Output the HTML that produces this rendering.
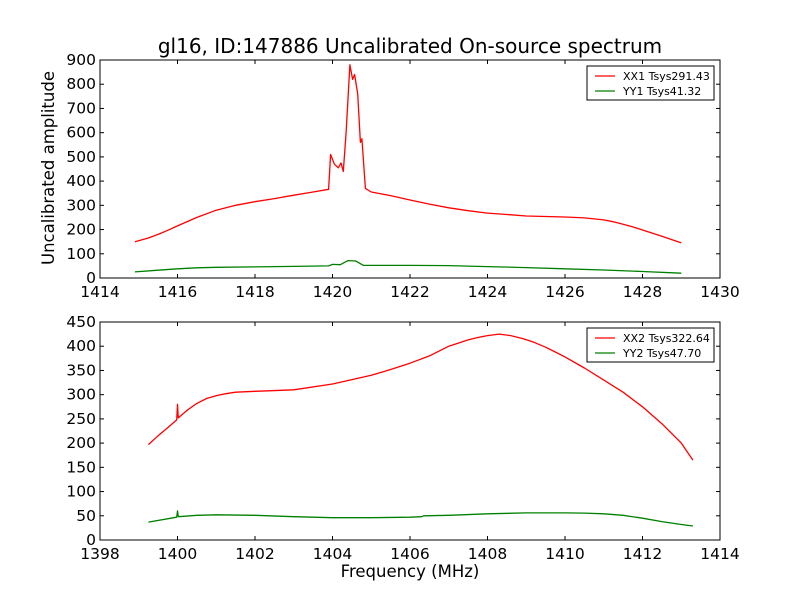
<!DOCTYPE html>
<html><head><meta charset="utf-8"><style>
body{margin:0;background:#fff;}
svg{display:block;font-family:"DejaVu Sans","Liberation Sans",sans-serif;}
</style></head><body>
<svg id="chart" width="800" height="600">
<rect width="800" height="600" fill="#fff"/>
</svg>
<script>
const topXX_f=[1414.9,1415.25,1415.5,1415.75,1416,1416.5,1417,1417.5,1418,1418.5,1419,1419.5,1419.9,1419.95,1420.05,1420.15,1420.22,1420.28,1420.35,1420.45,1420.52,1420.57,1420.65,1420.72,1420.76,1420.85,1421,1421.5,1422,1422.5,1423,1423.5,1424,1424.5,1425,1425.5,1426,1426.5,1427,1427.25,1427.5,1427.75,1428,1428.5,1429];
const topXX_v=[150,165,180,197,215,250,280,300,315,328,342,355,366,510,470,455,475,440,600,880,820,840,760,560,575,370,355,340,322,305,290,278,268,262,256,254,252,248,240,232,222,211,198,172,145];
const topYY_f=[1414.9,1415.5,1416,1416.5,1417,1418,1419,1419.9,1420,1420.2,1420.4,1420.6,1420.8,1421,1422,1423,1424,1425,1426,1427,1428,1429];
const topYY_v=[25,32,38,42,44,46,48,50,56,55,72,70,52,52,52,51,47,43,38,33,27,20];
const botXX_f=[1399.25,1399.5,1399.75,1399.98,1400,1400.02,1400.25,1400.5,1400.75,1401,1401.25,1401.5,1402,1403,1404,1405,1405.5,1406,1406.5,1407,1407.5,1407.75,1408,1408.3,1408.6,1408.9,1409.2,1409.5,1409.75,1410,1410.5,1411,1411.5,1412,1412.5,1413,1413.3];
const botXX_v=[197,215,232,248,280,252,268,282,292,298,302,305,307,310,322,340,352,365,380,400,413,418,422,425,422,416,408,398,388,378,355,330,305,275,240,200,165];
const botYY_f=[1399.25,1399.98,1400,1400.02,1400.5,1401,1402,1403,1404,1405,1406,1406.3,1406.35,1407,1408,1409,1410,1410.5,1411,1411.5,1412,1412.5,1413,1413.3];
const botYY_v=[37,47,60,48,51,52,51,48,46,46,47,48,50,51,54,56,56,55.5,54,51,45,38,32,29];
const topXTicks=[1414,1416,1418,1420,1422,1424,1426,1428,1430];
const topYTicks=[0,100,200,300,400,500,600,700,800,900];
const botXTicks=[1398,1400,1402,1404,1406,1408,1410,1412,1414];
const botYTicks=[0,50,100,150,200,250,300,350,400,450];
const NS='http://www.w3.org/2000/svg';
const svg=document.getElementById('chart');
function mk(tag,attrs,parent){const e=document.createElementNS(NS,tag);for(const k in attrs)e.setAttribute(k,attrs[k]);(parent||svg).appendChild(e);return e;}
function panel(name,x0,y0,w,h,xmin,xmax,ymax,xt,yt,series,legend){
  const g=mk('g',{});
  
  
  const sx=f=>x0+(f-xmin)/(xmax-xmin)*w, sy=v=>y0+h-v/ymax*h;
  series.forEach(s=>{
    const d=s.f.map((f,i)=>(i?'L':'M')+sx(f).toFixed(1)+','+sy(s.v[i]).toFixed(1)).join('');
    const p=mk('path',{d:d,fill:'none',stroke:s.c,'stroke-width':1.3,'stroke-linejoin':'round'},g);
    
    
  });
  mk('rect',{x:x0,y:y0,width:w,height:h,fill:'none',stroke:'#000','stroke-width':1},g);
  xt.forEach(t=>{const x=sx(t);
    mk('line',{x1:x,x2:x,y1:y0+h,y2:y0+h-4,stroke:'#000'},g);
    mk('line',{x1:x,x2:x,y1:y0,y2:y0+4,stroke:'#000'},g);
    const tx=mk('text',{x:x,y:y0+h+19,'text-anchor':'middle','font-size':15.5},g);tx.textContent=t;
    
    
  });
  yt.forEach(t=>{const y=sy(t);
    mk('line',{x1:x0,x2:x0+4,y1:y,y2:y,stroke:'#000'},g);
    mk('line',{x1:x0+w,x2:x0+w-4,y1:y,y2:y,stroke:'#000'},g);
    const tx=mk('text',{x:x0-4,y:y+5,'text-anchor':'end','font-size':15.5},g);tx.textContent=t;
    
    
  });
  const lg=mk('g',{},g);
  
  
  const lx=x0+w-133,ly=y0+6;
  mk('rect',{x:lx,y:ly,width:127,height:34,fill:'#fff',stroke:'#000'},lg);
  legend.forEach((l,i)=>{
    mk('line',{x1:lx+8,x2:lx+28,y1:ly+10+i*15,y2:ly+10+i*15,stroke:l.c,'stroke-width':1.2},lg);
    const tx=mk('text',{x:lx+36,y:ly+14+i*15,'font-size':11},lg);tx.textContent=l.t;
    
    
  });
}
panel('top-panel',100,60,620,218,1414,1430,900,topXTicks,topYTicks,
 [{f:topXX_f,v:topXX_v,c:'#ff0000',n:'xx1-line'},{f:topYY_f,v:topYY_v,c:'#008000',n:'yy1-line'}],
 [{c:'#ff0000',t:'XX1 Tsys291.43'},{c:'#008000',t:'YY1 Tsys41.32'}]);
panel('bottom-panel',100,322,620,218,1398,1414,450,botXTicks,botYTicks,
 [{f:botXX_f,v:botXX_v,c:'#ff0000',n:'xx2-line'},{f:botYY_f,v:botYY_v,c:'#008000',n:'yy2-line'}],
 [{c:'#ff0000',t:'XX2 Tsys322.64'},{c:'#008000',t:'YY2 Tsys47.70'}]);
let t=mk('text',{x:410,y:53,'text-anchor':'middle','font-size':20});t.textContent='gl16, ID:147886 Uncalibrated On-source spectrum';


t=mk('text',{x:410,y:577,'text-anchor':'middle','font-size':16.5});t.textContent='Frequency (MHz)';


t=mk('text',{x:0,y:0,'text-anchor':'middle','font-size':16.5,transform:'translate(54,168) rotate(-90)'});t.textContent='Uncalibrated amplitude';


</script>
</body></html>
